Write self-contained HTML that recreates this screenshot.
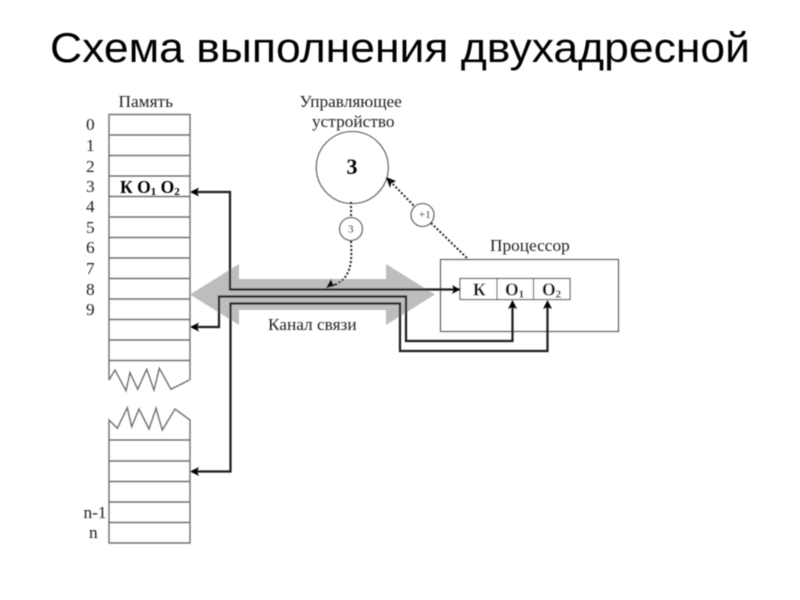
<!DOCTYPE html>
<html><head><meta charset="utf-8"><style>
html,body{margin:0;padding:0;background:#fff}
svg{display:block}
.s{font-family:"Liberation Serif",serif;fill:#222;font-size:17.3px}
.b{font-family:"Liberation Serif",serif;font-weight:bold;fill:#000;font-size:17.5px}
.m{font-family:"Liberation Serif",serif;fill:#444;font-size:11px}
</style></head><body>
<svg width="800" height="600" viewBox="0 0 800 600" xmlns="http://www.w3.org/2000/svg">
<defs>
<filter id="f" filterUnits="userSpaceOnUse" x="0" y="0" width="800" height="600"><feGaussianBlur stdDeviation="0.4"/></filter>
<marker id="a" markerUnits="userSpaceOnUse" markerWidth="10" markerHeight="10" refX="8" refY="4.5" orient="auto"><path d="M0 0L8 4.5L0 9L2 4.5Z" fill="#000"/></marker>
</defs>
<g filter="url(#f)">
<text x="50" y="62" font-family="Liberation Sans, sans-serif" font-size="42" textLength="700" lengthAdjust="spacingAndGlyphs" fill="#000">Схема выполнения двухадресной</text>
<polygon points="190,294.5 239,264 239,279 386,279 386,264 435,294.5 386,325 386,310 239,310 239,325" fill="#bdbdbd"/>
<g fill="none" stroke="#707070" stroke-width="1.4">
<path d="M109 380V114.5H190V380"/>
<path d="M109 135H190M109 155.5H190M109 176H190M109 196.5H190M109 217H190M109 237.5H190M109 258H190M109 278.5H190M109 299H190M109 319.5H190M109 340H190M109 360.5H190"/>
<path d="M109 380L115 370L126 390.7L130 372.7L137.7 389.3L146.7 369.3L154 390L159.3 368.3L171 389.3L189.3 380"/>
<path d="M109 420L117.3 428.3L127.3 407.7L131.7 426.7L139 409L149 429L156 408.3L162.3 430L175 409L190 420V543H109Z"/>
<path d="M109 440H190M109 461H190M109 481.5H190M109 502H190M109 522.5H190"/>
</g>
<g fill="none" stroke="#555" stroke-width="1.1">
<circle cx="352.3" cy="167.5" r="36"/>
<circle cx="351" cy="229" r="11.5"/>
<circle cx="422.5" cy="215" r="11.5"/>
<rect x="440.5" y="259.5" width="178" height="72"/>
<rect x="460" y="278.5" width="110" height="21" fill="#fff"/>
<path d="M497 278.5V299.5M533.5 278.5V299.5"/>
</g>
<g fill="none" stroke="#1a1a1a" stroke-width="2.2">
<path d="M192 192H230V289.5H460" marker-end="url(#a)"/>
<path d="M512.5 302V341H406V296.5H219V327H192"/>
<path d="M547.5 302V351H400V303.5H230.5V471.5H192"/>
</g>
<g fill="#000">
<path d="M190 192L199 187.5L197 192L199 196.5Z"/>
<path d="M190 327L199 322.5L197 327L199 331.5Z"/>
<path d="M190 471.5L199 467L197 471.5L199 476Z"/>
<path d="M512.5 300L508 309L512.5 307L517 309Z"/>
<path d="M547.5 300L543 309L547.5 307L552 309Z"/>
<path d="M326 288L331 279L333 284L338 285Z"/>
<path d="M386 177L396 181L391 183.5L390 188Z"/>
</g>
<g fill="none" stroke="#222" stroke-width="2" stroke-dasharray="2 2">
<path d="M351 202V217"/>
<path d="M351 241C352 262 352 280 331 286"/>
<path d="M390 181L415 207"/>
<path d="M431 223L468 259"/>
</g>
<text class="s" x="118.5" y="107">Память</text>
<text class="s" x="86" y="130">0</text>
<text class="s" x="86" y="151">1</text>
<text class="s" x="86" y="172">2</text>
<text class="s" x="86" y="192">3</text>
<text class="s" x="86" y="212">4</text>
<text class="s" x="86" y="233">5</text>
<text class="s" x="86" y="253">6</text>
<text class="s" x="86" y="274">7</text>
<text class="s" x="86" y="295">8</text>
<text class="s" x="86" y="315">9</text>
<text class="s" x="83.5" y="518">n-1</text>
<text class="s" x="89" y="538">n</text>
<text class="s" x="299.5" y="107">Управляющее</text>
<text class="s" x="312" y="127">устройство</text>
<text class="s" x="490" y="251">Процессор</text>
<text class="s" x="268" y="330">Канал связи</text>
<text class="b" x="346.5" y="174" style="font-size:22px">3</text>
<text class="m" x="348" y="232.5">3</text>
<text class="m" x="419" y="218">+1</text>
<text class="b" x="120" y="193">К O<tspan style="font-size:11px" dy="2">1</tspan><tspan dy="-2"> O</tspan><tspan style="font-size:11px" dy="2">2</tspan></text>
<text class="b" x="473" y="295.5">К</text>
<text class="b" x="505" y="295.5">O<tspan style="font-size:11px" dy="2">1</tspan></text>
<text class="b" x="542" y="295.5">O<tspan style="font-size:11px" dy="2">2</tspan></text>
</g>
</svg>
</body></html>
